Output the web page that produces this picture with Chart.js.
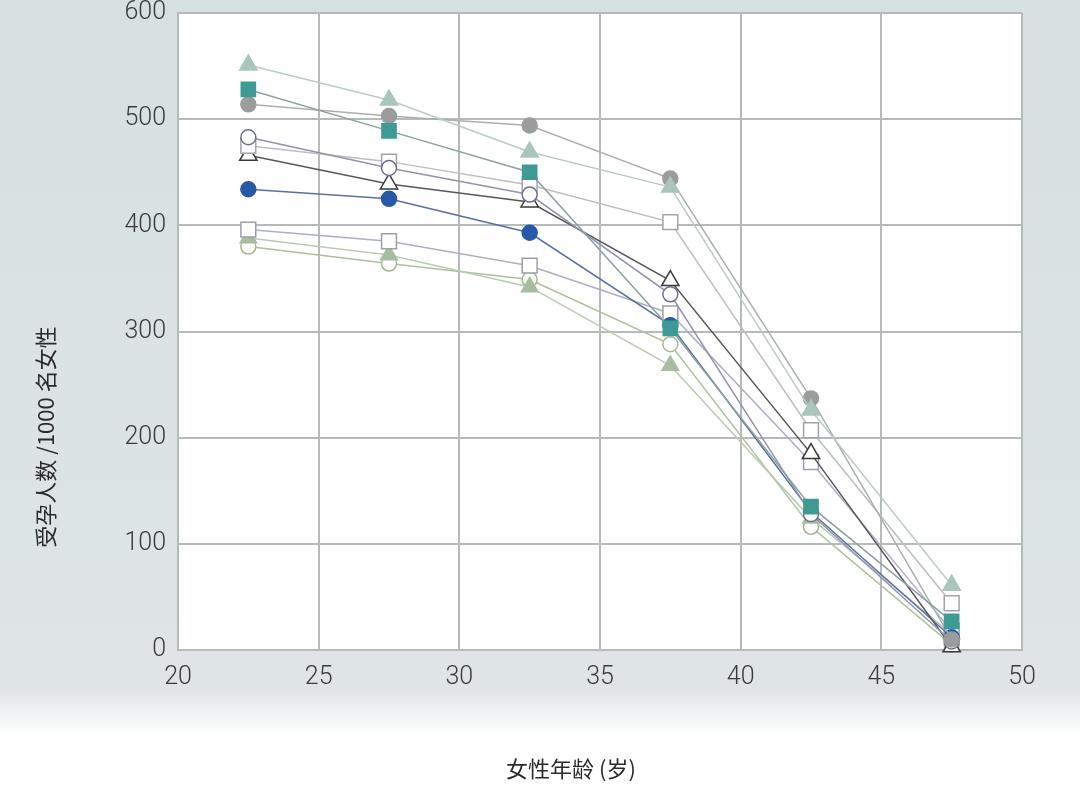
<!DOCTYPE html>
<html>
<head>
<meta charset="utf-8">
<script src="https://cdn.jsdelivr.net/npm/chart.js@4.4.0/dist/chart.umd.min.js"></script>
<style>
  html, body { margin: 0; padding: 0; background: #fff; }
  #wrap { width: 1080px; height: 787px; position: relative; }
</style>
</head>
<body>
<div id="wrap"><canvas id="chart"></canvas></div>
<script>
// age group midpoints (years)
const ages = [22.5, 27.5, 32.5, 37.5, 42.5, 47.5]

// pregnancies per 1000 women, one array per population
const sageTriangle = [551, 518, 469, 436, 226, 61]
const tealSquare = [528, 489, 450, 303, 135, 27]
const grayCircle = [514, 503, 494, 444, 237, 10]
const openCircle = [483, 454, 429, 335, 128, 8]
const openSquareHigh = [475, 460, 438, 403, 207, 44]
const openTriangle = [466, 439, 422, 348, 185, 3]
const blueCircle = [434, 425, 393, 306, 130, 12]
const openSquareLow = [396, 385, 362, 317, 177, 18]
const greenTriangle = [388, 372, 342, 268, 124, 15]
const greenCircle = [380, 364, 349, 288, 116, 5]

const xTicks = [20, 25, 30, 35, 40, 45, 50]
const yTicks = [0, 100, 200, 300, 400, 500, 600]

const xTitle = '女性年龄 (岁)'
const yTitle = '受孕人数 /1000 名女性'

const toPoints = (values) => values.map((v, i) => ({ x: ages[i], y: v }))

const series = [
  { data: sageTriangle, style: 'triangle', fill: '#a9c6bd', edge: '#a9c6bd', line: '#bccbc6', r: 10 },
  { data: tealSquare, style: 'rect', fill: '#3f9995', edge: '#3f9995', line: '#8fa0a0', r: 10 },
  { data: grayCircle, style: 'circle', fill: '#9b9c9d', edge: '#9b9c9d', line: '#adaeaf', r: 7.5 },
  { data: openCircle, style: 'circle', fill: '#ffffff', edge: '#6f6f8c', line: '#9393ab', r: 7.5 },
  { data: openSquareHigh, style: 'rect', fill: '#ffffff', edge: '#a2a3ac', line: '#bdbec4', r: 10.5 },
  { data: openTriangle, style: 'triangle', fill: '#ffffff', edge: '#3a3a3a', line: '#58585a', r: 10 },
  { data: blueCircle, style: 'circle', fill: '#2659a8', edge: '#2659a8', line: '#5a70a4', r: 7.5 },
  { data: openSquareLow, style: 'rect', fill: '#ffffff', edge: '#9d9eab', line: '#aeb0c2', r: 10.5 },
  { data: greenTriangle, style: 'triangle', fill: '#a8bd9f', edge: '#a8bd9f', line: '#bccab4', r: 9.5 },
  { data: greenCircle, style: 'circle', fill: '#ffffff', edge: '#a5b58f', line: '#adc09c', r: 7.5 }
]

const datasets = series.map(s => ({
  data: toPoints(s.data),
  pointStyle: s.style,
  pointRadius: s.r,
  pointBackgroundColor: s.fill,
  pointBorderColor: s.edge,
  pointBorderWidth: 1.5,
  borderColor: s.line,
  borderWidth: 1.5,
  showLine: true,
  clip: false
}))

// grey-blue backdrop fading to white under the axis labels
const backdrop = {
  id: 'backdrop',
  beforeDraw (chart) {
    const ctx = chart.ctx
    const g = ctx.createLinearGradient(0, 0, 0, chart.height)
    g.addColorStop(0, '#d6e0e0')
    g.addColorStop(0.875, '#dfe5e6')
    g.addColorStop(0.935, '#ffffff')
    g.addColorStop(1, '#ffffff')
    ctx.save()
    ctx.fillStyle = g
    ctx.fillRect(0, 0, chart.width, chart.height)
    const a = chart.chartArea
    ctx.fillStyle = '#ffffff'
    ctx.fillRect(a.left, a.top, a.right - a.left, a.bottom - a.top)
    ctx.restore()
  },
  afterDraw (chart) {
    const ctx = chart.ctx
    ctx.save()
    ctx.fillStyle = '#2a2a2a'
    ctx.font = '22px "Noto Sans CJK SC"'
    ctx.textAlign = 'center'
    ctx.textBaseline = 'middle'
    ctx.fillText(xTitle, 571, 769)
    ctx.translate(46, 437)
    ctx.rotate(-Math.PI / 2)
    ctx.fillText(yTitle, 0, 0)
    ctx.restore()
  }
}

const tickFont = { family: 'Roboto, "Liberation Sans", sans-serif', size: 25, weight: 300 }

new Chart(document.getElementById('chart'), {
  type: 'scatter',
  data: { datasets },
  plugins: [backdrop],
  options: {
    responsive: true,
    maintainAspectRatio: false,
    animation: false,
    layout: { padding: { top: 13, right: 58, left: 0, bottom: 0 } },
    plugins: { legend: { display: false }, tooltip: { enabled: false } },
    scales: {
      x: {
        type: 'linear',
        min: 20,
        max: 50,
        afterFit: (scale) => {
          scale.height = 137
          scale.paddingLeft = 0
          scale.paddingRight = 0
        },
        afterBuildTicks: (scale) => { scale.ticks = xTicks.map(v => ({ value: v })) },
        grid: { color: '#b7baba', lineWidth: 2, drawTicks: false },
        border: { color: '#b7baba', width: 2 },
        ticks: { color: '#3a3a3a', font: tickFont, padding: 13, maxRotation: 0 }
      },
      y: {
        min: 0,
        max: 600,
        afterFit: (scale) => {
          scale.width = 178
          scale.paddingTop = 0
          scale.paddingBottom = 0
        },
        afterBuildTicks: (scale) => { scale.ticks = yTicks.map(v => ({ value: v })) },
        grid: { color: '#b7baba', lineWidth: 2, drawTicks: false },
        border: { color: '#b7baba', width: 2 },
        ticks: { color: '#3a3a3a', font: tickFont, padding: 12 }
      }
    }
  }
})
</script>
</body>
</html>
